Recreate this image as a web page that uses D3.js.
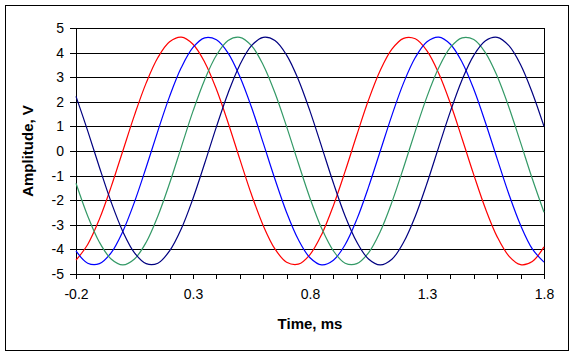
<!DOCTYPE html>
<html>
<head>
<meta charset="utf-8">
<script src="https://cdn.jsdelivr.net/npm/d3@7"></script>
<style>
  html, body { margin: 0; padding: 0; background: #fff; }
  svg { display: block; }
  text { font-family: Arial, "Liberation Sans", sans-serif; }
</style>
</head>
<body>
<svg id="chart" width="576" height="356"></svg>
<script>
// ---- data ----
const time = [-0.2, -0.15, -0.1, -0.05, 0, 0.05, 0.1, 0.15, 0.2, 0.25, 0.3, 0.35, 0.4, 0.45, 0.5, 0.55, 0.6, 0.65, 0.7, 0.75, 0.8,
  0.85, 0.9, 0.95, 1.0, 1.05, 1.1, 1.15, 1.2, 1.25, 1.3, 1.35, 1.4, 1.45, 1.5, 1.55, 1.6, 1.65, 1.7, 1.75, 1.8];
const redValues = [-4.44, -3.80, -2.77, -1.46, 0.00, 1.46, 2.77, 3.80, 4.44, 4.63, 4.34, 3.61, 2.51, 1.15, -0.33, -1.77, -3.03, -3.98, -4.52, -4.60, -4.21,
  -3.39, -2.22, -0.83, 0.65, 2.07, 3.27, 4.14, 4.58, 4.56, 4.07, 3.16, 1.93, 0.50, -0.97, -2.35, -3.49, -4.27, -4.62, -4.49, -3.90];
const blueValues = [-4.06, -4.56, -4.58, -4.14, -3.27, -2.07, -0.66, 0.82, 2.22, 3.39, 4.21, 4.60, 4.52, 3.98, 3.03, 1.78, 0.33, -1.14, -2.50, -3.60, -4.34,
  -4.63, -4.44, -3.81, -2.78, -1.47, -0.01, 1.45, 2.77, 3.80, 4.44, 4.63, 4.34, 3.61, 2.51, 1.15, -0.32, -1.76, -3.02, -3.98, -4.52];
const greenValues = [-1.31, -2.64, -3.71, -4.39, -4.63, -4.39, -3.71, -2.64, -1.31, 0.16, 1.62, 2.90, 3.89, 4.49, 4.62, 4.28, 3.50, 2.37, 0.99, -0.49, -1.92,
  -3.15, -4.06, -4.56, -4.58, -4.14, -3.28, -2.08, -0.67, 0.81, 2.21, 3.38, 4.21, 4.60, 4.53, 3.99, 3.04, 1.78, 0.34, -1.13, -2.49];
const navyValues = [2.22, 0.82, -0.66, -2.07, -3.27, -4.14, -4.58, -4.56, -4.06, -3.16, -1.93, -0.50, 0.98, 2.36, 3.50, 4.28, 4.62, 4.49, 3.90, 2.91, 1.62,
  0.17, -1.30, -2.64, -3.70, -4.39, -4.63, -4.40, -3.71, -2.65, -1.31, 0.16, 1.61, 2.90, 3.89, 4.48, 4.62, 4.28, 3.51, 2.37, 1.00];
const seriesColors = ["#ff0000", "#0000ff", "#339966", "#000080"];
const xTickLabels = ["-0.2", "0.3", "0.8", "1.3", "1.8"];
const xMinorTicks = [-0.2, -0.1, 0, 0.1, 0.2, 0.3, 0.4, 0.5, 0.6, 0.7, 0.8, 0.9, 1.0, 1.1, 1.2, 1.3, 1.4, 1.5, 1.6, 1.7, 1.8];
const yTicks = [-5, -4, -3, -2, -1, 0, 1, 2, 3, 4, 5];
const xTitle = "Time, ms";
const yTitle = "Amplitude, V";

// ---- drawing ----
const svg = d3.select("#chart");
const W = 576, H = 356;
const plot = { left: 76, right: 544, top: 28, bottom: 274 };

const x = d3.scaleLinear().domain([-0.2, 1.8]).range([plot.left, plot.right]);
const y = d3.scaleLinear().domain([-5, 5]).range([plot.bottom, plot.top]);

svg.append("rect").attr("width", W).attr("height", H).attr("fill", "#fff");
// outer chart border
svg.append("rect")
  .attr("x", 5.5).attr("y", 5.5).attr("width", 563).attr("height", 345)
  .attr("fill", "none").attr("stroke", "#000").attr("stroke-width", 1)
  .attr("shape-rendering", "crispEdges");

// grid lines
svg.append("g").selectAll("line").data(yTicks).join("line")
  .attr("x1", plot.left).attr("x2", plot.right)
  .attr("y1", d => Math.round(y(d)) + 0.5).attr("y2", d => Math.round(y(d)) + 0.5)
  .attr("stroke", "#000").attr("stroke-width", 1).attr("shape-rendering", "crispEdges");

// plot area border (right side)
svg.append("line")
  .attr("x1", plot.right + 0.5).attr("x2", plot.right + 0.5)
  .attr("y1", plot.top).attr("y2", plot.bottom + 1)
  .attr("stroke", "#000").attr("shape-rendering", "crispEdges");

// y axis
const yAxis = d3.axisLeft(y).tickValues(yTicks).tickSize(6).tickPadding(6)
  .tickFormat(d3.format("d"));
const gy = svg.append("g").attr("transform", `translate(${plot.left},0)`).call(yAxis);
gy.selectAll("line, path").attr("stroke", "#000").attr("shape-rendering", "crispEdges");
gy.select(".domain").attr("d", `M0.5,${plot.top}V${plot.bottom + 1}`);
gy.selectAll(".tick").attr("transform", d => `translate(0,${Math.round(y(d)) + 0.5})`);
gy.selectAll("text").attr("font-size", 14).attr("fill", "#000")
  .attr("font-family", "Arial, 'Liberation Sans', sans-serif").text(d => d < 0 ? "-" + Math.abs(d) : d);

// x axis: minor ticks every 0.1, labels every 0.5
const xAxis = d3.axisBottom(x).tickValues(xMinorTicks).tickSize(5).tickPadding(10)
  .tickFormat(d => {
    const i = xTickLabels.indexOf(String(Math.round(d * 10) / 10));
    return i >= 0 ? xTickLabels[i] : "";
  });
const gx = svg.append("g").attr("transform", `translate(0,${plot.bottom})`).call(xAxis);
gx.selectAll("line, path").attr("stroke", "#000").attr("shape-rendering", "crispEdges");
gx.select(".domain").attr("d", `M${plot.left},0.5H${plot.right + 1}`);
gx.selectAll("text").attr("font-size", 14).attr("fill", "#000")
  .attr("font-family", "Arial, 'Liberation Sans', sans-serif");

// series lines
const allSeries = [redValues, blueValues, greenValues, navyValues];
const line = d3.line()
  .x((d, i) => x(time[i]))
  .y(d => y(d))
  .curve(d3.curveCatmullRom.alpha(0.5));
svg.append("g").selectAll("path").data(allSeries).join("path")
  .attr("d", line)
  .attr("fill", "none")
  .attr("stroke", (d, i) => seriesColors[i])
  .attr("stroke-width", 1.2);

// axis titles
svg.append("text")
  .attr("x", (plot.left + plot.right) / 2).attr("y", 329)
  .attr("text-anchor", "middle").attr("font-size", 15).attr("font-weight", "bold")
  .text(xTitle);
svg.append("text")
  .attr("transform", `translate(33,${(plot.top + plot.bottom) / 2}) rotate(-90)`)
  .attr("text-anchor", "middle").attr("font-size", 15).attr("font-weight", "bold")
  .text(yTitle);
</script>
</body>
</html>
